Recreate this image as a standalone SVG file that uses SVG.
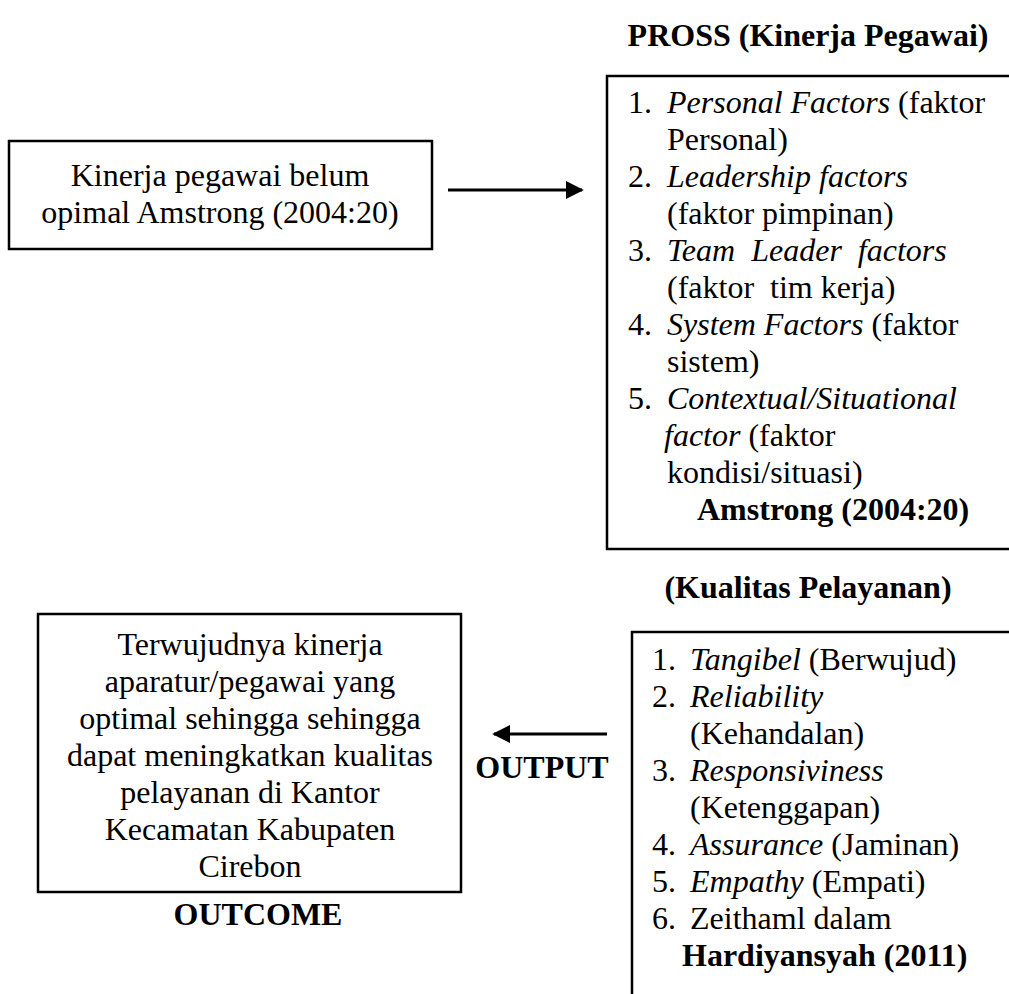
<svg xmlns="http://www.w3.org/2000/svg" width="1009" height="994" viewBox="0 0 1009 994">
<style>
.b{font-weight:bold}
.i{font-style:italic}
.c{text-anchor:middle}
.pre{white-space:pre}
.box{fill:none;stroke:#000;stroke-width:2.5}
.ln{stroke:#000;stroke-width:3;fill:none}
</style>
<defs>
<marker id="ah" viewBox="0 0 10 10" refX="9" refY="5" markerWidth="6" markerHeight="6" markerUnits="strokeWidth" orient="auto">
<path d="M0,0 L10,5 L0,10 z" fill="#000"/>
</marker>
</defs>
<rect width="1009" height="994" fill="#fff"/>
<g font-family="Liberation Serif, serif" font-size="32" fill="#000">
<g id="title-pross"><text class="b c" x="808" y="46">PROSS (Kinerja Pegawai)</text></g>
<g id="node-kinerja">
<rect class="box" x="9" y="141" width="423" height="108"/>
<text class="c" x="220" y="186">Kinerja pegawai belum</text>
<text class="c" x="220" y="223">opimal Amstrong (2004:20)</text>
</g>
<g id="node-pross">
<path class="box" d="M1012,76 H607 V549 H1012"/>
<text x="628" y="113">1.<tspan class="i" x="667">Personal Factors</tspan> (faktor</text>
<text x="667" y="150">Personal)</text>
<text x="628" y="187">2.<tspan class="i" x="667">Leadership factors</tspan></text>
<text x="667" y="224">(faktor pimpinan)</text>
<text class="pre" xml:space="preserve" x="628" y="261">3.<tspan class="i" x="667">Team  Leader  factors</tspan></text>
<text class="pre" xml:space="preserve" x="667" y="298">(faktor  tim kerja)</text>
<text x="628" y="335">4.<tspan class="i" x="667">System Factors</tspan> (faktor</text>
<text x="667" y="372">sistem)</text>
<text x="628" y="409">5.<tspan class="i" x="667">Contextual/Situational</tspan></text>
<text x="664" y="446"><tspan class="i">factor</tspan> (faktor</text>
<text x="667" y="483">kondisi/situasi)</text>
<text class="b" x="697" y="520">Amstrong (2004:20)</text>
</g>
<g id="title-kualitas"><text class="b c" x="808" y="598">(Kualitas Pelayanan)</text></g>
<g id="node-kualitas">
<path class="box" d="M1012,632 H632 V998"/>
<text x="652" y="670">1.<tspan class="i" x="690">Tangibel</tspan> (Berwujud)</text>
<text x="652" y="707">2.<tspan class="i" x="690">Reliability</tspan></text>
<text x="690" y="744">(Kehandalan)</text>
<text x="652" y="781">3.<tspan class="i" x="690">Responsiviness</tspan></text>
<text x="690" y="818">(Ketenggapan)</text>
<text x="652" y="855">4.<tspan class="i" x="690">Assurance</tspan> (Jaminan)</text>
<text x="652" y="892">5.<tspan class="i" x="690">Empathy</tspan> (Empati)</text>
<text x="652" y="929">6.<tspan x="690">Zeithaml dalam</tspan></text>
<text class="b" x="682" y="966">Hardiyansyah (2011)</text>
</g>
<g id="node-outcome">
<rect class="box" x="38" y="614" width="423" height="278"/>
<text class="c" x="250" y="655">Terwujudnya kinerja</text>
<text class="c" x="250" y="692">aparatur/pegawai yang</text>
<text class="c" x="250" y="729">optimal sehingga sehingga</text>
<text class="c" x="250" y="766">dapat meningkatkan kualitas</text>
<text class="c" x="250" y="803">pelayanan di Kantor</text>
<text class="c" x="250" y="840">Kecamatan Kabupaten</text>
<text class="c" x="250" y="877">Cirebon</text>
</g>
<g id="label-outcome"><text class="b c" x="258" y="925">OUTCOME</text></g>
<g id="label-output"><text class="b c" x="542" y="778">OUTPUT</text></g>
</g>
<g id="connectors">
<line class="ln" x1="448" y1="190" x2="582" y2="190" marker-end="url(#ah)"/>
<line class="ln" x1="607" y1="734" x2="494" y2="734" marker-end="url(#ah)"/>
</g>
</svg>
